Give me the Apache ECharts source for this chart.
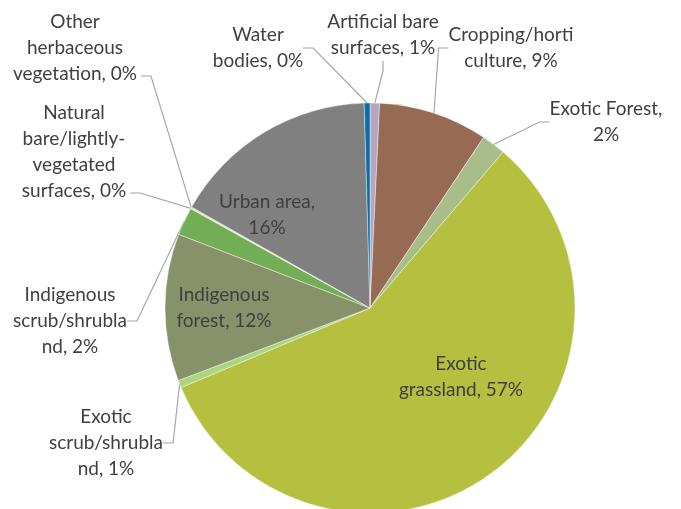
<!DOCTYPE html>
<html>
<head>
<meta charset="utf-8">
<script src="https://cdn.jsdelivr.net/npm/echarts@6/dist/echarts.min.js"></script>
<style>
  html, body { margin: 0; padding: 0; background: #fff; }
  #chart { width: 681px; height: 509px; }
</style>
</head>
<body>
<div id="chart"></div>
<script>
// land cover shares (%), clockwise from 12 o'clock
const categories = [
  'Artificial bare surfaces',
  'Cropping/horticulture',
  'Exotic Forest',
  'Exotic grassland',
  'Exotic scrub/shrubland',
  'Indigenous forest',
  'Indigenous scrub/shrubland',
  'Natural bare/lightly-vegetated surfaces',
  'Other herbaceous vegetation',
  'Urban area',
  'Water bodies'
]
const shares = [0.75, 8.6, 1.9, 57.4, 0.6, 11.6, 2.2, 0.05, 0.1, 16.35, 0.45]
// wrapped label text as in the original
const labelText = [
  'Artificial bare\nsurfaces',
  'Cropping/horti\nculture',
  'Exotic Forest,\n',
  'Exotic\ngrassland',
  'Exotic\nscrub/shrubla\nnd',
  'Indigenous\nforest',
  'Indigenous\nscrub/shrubla\nnd',
  'Natural\nbare/lightly-\nvegetated\nsurfaces',
  'Other\nherbaceous\nvegetation',
  'Urban area,\n',
  'Water\nbodies'
]
const inside = [false, false, false, true, false, true, false, false, false, true, false]
// labels whose leader leaves from the right end of the last text line
const sideLeader = [false, false, false, false, false, false, false, true, true, false, false]

const colors = ['#b3a7c3', '#976a53', '#a9bd8a', '#b5bf40', '#a9d67f', '#87926a',
  '#72ae55', '#c9b27c', '#c4dd9f', '#808080', '#0a6fa6']

// label block centres (layout only)
const labelPos = [
  [383, 35], [511, 48], [606, 122], [461, 377], [106, 443], [224, 308],
  [70, 321], [74, 152], [75, 48], [267, 215], [258, 48]
]
const LINE_H = 26

const chart = echarts.init(document.getElementById('chart'))

chart.setOption({
  animation: false,
  series: [{
    type: 'pie',
    center: [370, 308],
    radius: 205,
    startAngle: 90,
    clockwise: true,
    avoidLabelOverlap: false,
    silent: true,
    itemStyle: { borderColor: '#fff', borderWidth: 0.4 },
    label: {
      fontFamily: 'Lato',
      fontSize: 19,
      lineHeight: LINE_H,
      color: '#404040',
      align: 'center',
      formatter: p => {
        const t = labelText[p.dataIndex]
        const pct = Math.round(p.percent) + '%'
        return t.endsWith('\n') ? t + pct : t + ', ' + pct
      }
    },
    labelLine: {
      show: true,
      length: 10,
      length2: 10,
      lineStyle: { color: '#a6a6a6', width: 1.2 }
    },
    labelLayout: p => {
      const i = p.dataIndex
      const [x, y] = labelPos[i]
      const out = { x, y, align: 'center', verticalAlign: 'middle' }
      if (sideLeader[i] && p.labelLinePoints) {
        const anchor = p.labelLinePoints[0]
        const ex = x + p.labelRect.width / 2 + 4
        const ey = y + p.labelRect.height / 2 - LINE_H / 2 + 2
        out.labelLinePoints = [anchor, [ex + 10, ey], [ex, ey]]
      }
      return out
    },
    data: categories.map((name, i) => ({
      name,
      value: shares[i],
      itemStyle: { color: colors[i] },
      label: { position: inside[i] ? 'inside' : 'outside' },
      labelLine: { show: !inside[i] }
    }))
  }]
})
</script>
</body>
</html>
